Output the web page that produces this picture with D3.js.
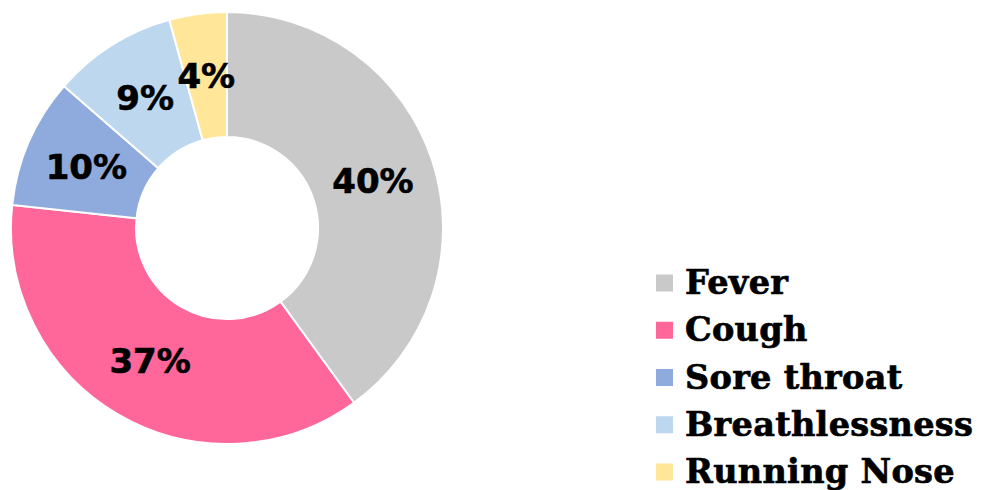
<!DOCTYPE html>
<html>
  <head>
    <meta charset="utf-8">
    <title>Symptoms</title>
    <script src="https://cdn.jsdelivr.net/npm/d3@7"></script>
    <style>
      body { margin: 0; background: #fff; }
      #chart { display: block; }
      .label { font-family: "DejaVu Sans", Verdana, sans-serif; font-weight: bold; font-size: 34px; fill: #000; stroke: #000; stroke-width: 0.6px; }
      .legendText { font-family: "DejaVu Serif", "Bookman Old Style", serif; font-weight: bold; font-size: 33.5px; letter-spacing: 0.3px; fill: #000; stroke: #000; stroke-width: 0.7px; }
    </style>
  </head>
  <body>
    <svg id="chart" width="985" height="490"></svg>

    <script>
      // data
      symptoms = ["Fever", "Cough", "Sore throat", "Breathlessness", "Running Nose"];
      shares = [40, 36.7, 9.7, 9.3, 4.3];
      labels = ["40%", "37%", "10%", "9%", "4%"];
      colours = ["#c9c9c9", "#ff6699", "#8faadc", "#bdd7ee", "#ffe699"];

      svg = d3.select("#chart");

      colour = d3.scaleOrdinal()
        .domain(symptoms)
        .range(colours);

      pie = d3.pie()
        .sort(null)
        .value(function(d) { return d.value; });

      arc = d3.arc()
        .innerRadius(91)
        .outerRadius(216);

      rows = symptoms.map(function(d, i) {
        return { name: d, value: shares[i], label: labels[i] };
      });

      donut = svg.append("g")
        .attr("transform", "translate(227,228)");

      slices = donut.selectAll(".slice")
          .data(pie(rows))
        .enter().append("g")
          .classed("slice", true);

      slices.append("path")
        .attr("d", arc)
        .attr("fill", function(d) { return colour(d.data.name); })
        .attr("stroke", "#fff")
        .attr("stroke-width", 2);

      slices.append("text")
        .classed("label", true)
        .attr("transform", function(d) { return "translate(" + arc.centroid(d) + ")"; })
        .attr("text-anchor", "middle")
        .attr("dy", "0.36em")
        .text(function(d) { return d.data.label; });

      // legend
      legendY = d3.scalePoint()
        .domain(symptoms)
        .range([283, 472]);

      legend = svg.selectAll(".legendItem")
          .data(symptoms)
        .enter().append("g")
          .classed("legendItem", true)
          .attr("transform", function(d) { return "translate(656," + legendY(d) + ")"; });

      legend.append("rect")
        .attr("x", 0)
        .attr("y", -8.5)
        .attr("width", 17)
        .attr("height", 17)
        .attr("fill", function(d) { return colour(d); });

      legend.append("text")
        .classed("legendText", true)
        .attr("x", 29)
        .attr("y", 11)
        .text(function(d) { return d; });
    </script>
  </body>
</html>
